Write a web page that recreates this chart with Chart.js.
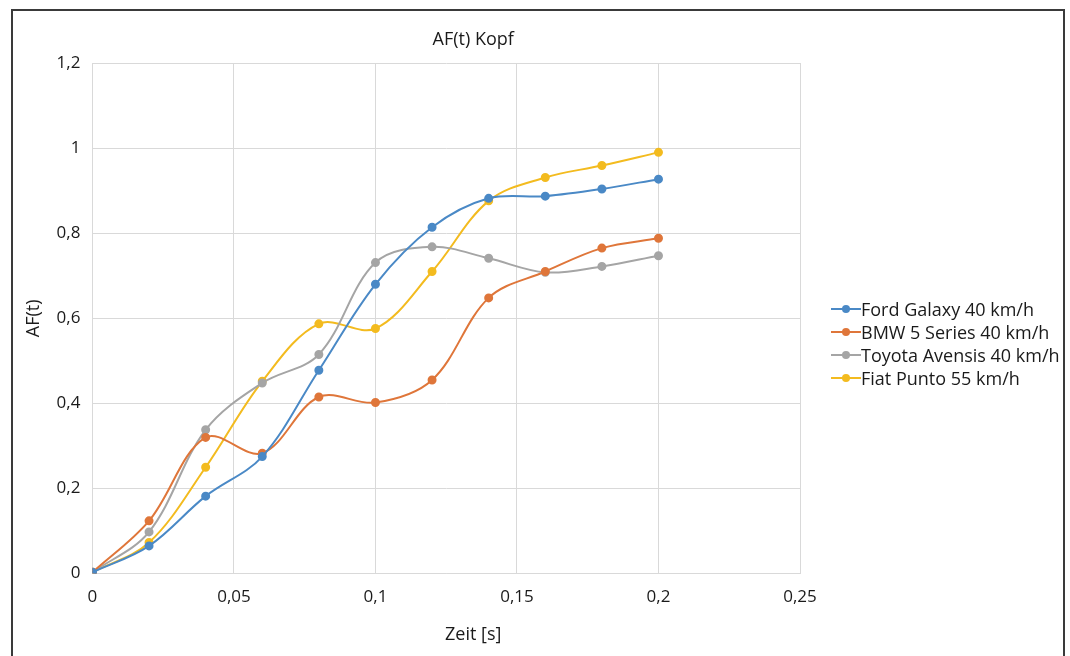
<!DOCTYPE html>
<html>
<head>
    <title>AF(t) Kopf</title>
    <meta charset="utf-8">
    <script src="https://cdn.jsdelivr.net/npm/chart.js"></script>
    <style>
        body { margin: 0; background: #fff; font-family: 'Open Sans', 'Noto Sans', sans-serif; }
        #frame { position: absolute; left: 11px; top: 9px; width: 1050px; height: 660px; border: 2px solid #3a3a3a; }
        #wrap { position: absolute; left: 0; top: 0; width: 1070px; height: 656px; }
        #legend { position: absolute; left: 831px; top: 297px; font-size: 18px; color: #1a1a1a; }
        #legend div { display: flex; align-items: center; height: 23px; white-space: nowrap; }
        .mk { display: inline-block; width: 30px; height: 2px; position: relative; }
        .mk span { position: absolute; left: 11px; top: -3px; width: 8px; height: 8px; border-radius: 50%; }
    </style>
</head>
<body>
    <div id="frame"></div>
    <div id="wrap"><canvas id="myChart" width="1070" height="656"></canvas></div>
    <div id="legend"></div>
    <script>
        // Zeit in s
        var zeit = [0, 0.02, 0.04, 0.06, 0.08, 0.1, 0.12, 0.14, 0.16, 0.18, 0.2];

        var ford   = [0.003, 0.065, 0.182, 0.275, 0.478, 0.680, 0.814, 0.882, 0.887, 0.904, 0.927];
        var bmw    = [0.003, 0.124, 0.320, 0.283, 0.415, 0.402, 0.455, 0.648, 0.710, 0.765, 0.788];
        var toyota = [0.003, 0.098, 0.338, 0.448, 0.515, 0.731, 0.768, 0.741, 0.708, 0.722, 0.747];
        var fiat   = [0.003, 0.073, 0.250, 0.452, 0.587, 0.576, 0.710, 0.876, 0.931, 0.959, 0.990];

        var names  = ['Ford Galaxy 40 km/h', 'BMW 5 Series 40 km/h', 'Toyota Avensis 40 km/h', 'Fiat Punto 55 km/h'];
        var colors = ['#4a89c6', '#df763a', '#a5a5a5', '#f3bb1f'];

        function toPoints(vals) {
            var pts = [];
            for (var i = 0; i < zeit.length; i++) pts.push({x: zeit[i], y: vals[i]});
            return pts;
        }

        function komma(v) {
            return String(Math.round(v * 100) / 100).replace('.', ',');
        }

        var series = [ford, bmw, toyota, fiat];
        var datasets = [];
        for (var k = 0; k < series.length; k++) {
            datasets.push({
                label: names[k],
                data: toPoints(series[k]),
                borderColor: colors[k],
                backgroundColor: colors[k],
                borderWidth: 2,
                pointRadius: 3.5,
                pointHoverRadius: 4,
                tension: 0.35,
                showLine: true
            });
        }

        // html legend
        var leg = document.getElementById('legend');
        for (var k = 0; k < names.length; k++) {
            var row = document.createElement('div');
            row.innerHTML = '<span class="mk" style="background:' + colors[k] + '"><span style="background:' + colors[k] + '"></span></span>' + names[k];
            leg.appendChild(row);
        }

        var font = "'Open Sans', 'Noto Sans', sans-serif";
        Chart.defaults.font.family = font;
        Chart.defaults.color = '#1a1a1a';

        // chart title and x axis title, Excel puts them a bit right of the plot centre
        var titles = {
            id: 'titles',
            afterDraw: function(chart) {
                var ctx = chart.ctx, a = chart.chartArea;
                var cx = (a.left + a.right) / 2 + 27;
                ctx.save();
                ctx.fillStyle = '#1a1a1a';
                ctx.textAlign = 'center';
                ctx.textBaseline = 'middle';
                ctx.font = '18px ' + font;
                ctx.fillText('AF(t) Kopf', cx, a.top - 23);
                ctx.fillText('Zeit [s]', cx, a.bottom + 61);
                ctx.restore();
            }
        };

        var myChart = new Chart(document.getElementById('myChart'), {
            type: 'scatter',
            data: { datasets: datasets },
            plugins: [titles],
            options: {
                responsive: false,
                animation: false,
                layout: { padding: { left: 19, right: 270, top: 63, bottom: 36 } },
                plugins: {
                    legend: { display: false },
                    tooltip: { enabled: false }
                },
                scales: {
                    x: {
                        type: 'linear',
                        min: 0, max: 0.25,
                        grid: { color: '#d9d9d9', drawTicks: false },
                        border: { color: '#d9d9d9' },
                        ticks: { stepSize: 0.05, padding: 13, font: { size: 17 }, callback: komma }
                    },
                    y: {
                        min: 0, max: 1.2,
                        grid: { color: '#d9d9d9', drawTicks: false },
                        border: { color: '#d9d9d9' },
                        ticks: { stepSize: 0.2, padding: 12, font: { size: 17 }, callback: komma },
                        title: { display: true, text: 'AF(t)', font: { size: 18 }, padding: { top: 4, bottom: 0 } }
                    }
                }
            }
        });
    </script>
</body>
</html>
